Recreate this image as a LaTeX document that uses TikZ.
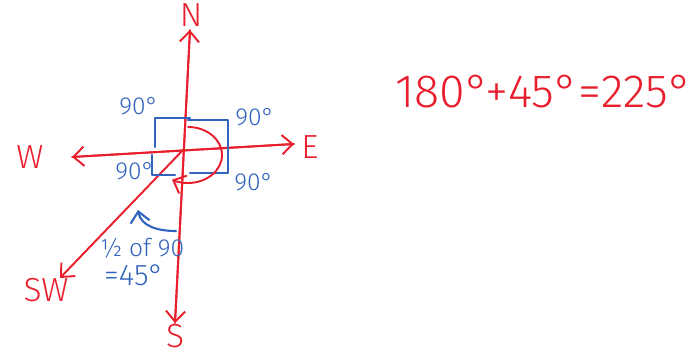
\documentclass[tikz,border=0pt]{standalone}
\usepackage{fontspec}
\setmainfont{Fira Sans Light}
\usetikzlibrary{arrows.meta}
\definecolor{penred}{RGB}{232,30,45}
\definecolor{penblue}{RGB}{50,100,190}
\tikzset{
	redpen/.style={draw=penred, line width=1.1pt, line cap=round, line join=round},
	bluepen/.style={draw=penblue, line width=1.2pt, line cap=round, line join=round},
	tip/.style={-{Straight Barb[length=6pt,width=11pt]}},
	redtext/.style={text=penred, font=\fontsize{19}{21}\selectfont, inner sep=0pt},
	bluetext/.style={text=penblue, font=\fontsize{14}{16}\selectfont, inner sep=0pt}
}
\begin{document}
\begin{tikzpicture}[x=0.02cm, y=-0.02cm]
	\useasboundingbox (0,0) rectangle (692,354);
	% compass points
	\coordinate (O) at (183,150);
	\coordinate (Ntip) at (190,30);
	\coordinate (Stip) at (175,323);
	\coordinate (Wtip) at (72,157);
	\coordinate (Etip) at (294,144);
	\coordinate (SWtip) at (60,278);
	\draw[redpen, tip] (Stip)--(Ntip);
	\draw[redpen, tip] (Ntip)--(Stip);
	\draw[redpen, tip] (Wtip)--(Etip);
	\draw[redpen, tip] (Etip)--(Wtip);
	\draw[redpen, tip] (O)--(SWtip);
		\node[redtext] (lN) at (191,15) {N};
		\node[redtext] (lS) at (175,336) {S};
		\node[redtext] (lE) at (310,147) {E};
		\node[redtext] (lW) at (30,157) {W};
		\node[redtext] (lSW) at (46,290) {SW};
	% right angles
	\draw[bluepen] (155,147)--(155,118)--(190,118);
	\draw[bluepen] (188,120)--(228,120)--(228,147);
	\draw[bluepen] (228,147)--(228,173)--(190,173);
	\draw[bluepen] (152,155)--(152,175)--(175,175);
		\node[bluetext] (aTL) at (139,106) {90°};
		\node[bluetext] (aTR) at (255,117) {90°};
		\node[bluetext] (aBL) at (135,171) {90°};
		\node[bluetext] (aBR) at (254,182) {90°};
	% turn from north
	\draw[redpen, tip] (188,127) arc[start angle=-90, end angle=118, x radius=34, y radius=28];
	\coordinate (hs) at (176,231);
	\coordinate (he) at (138,210);
	\draw[bluepen, tip] (hs) to[out=180, in=-80] (he);
		\node[bluetext] (half) at (142,248) {½ of 90};
		\node[bluetext, font=\fontsize{17}{19}\selectfont] (res) at (134,275) {=45°};
	% sum
	\node[redtext, font=\fontsize{26.5}{30}\selectfont] (sum) at (544,92) {180°+45°=225°};
\end{tikzpicture}
\end{document}
